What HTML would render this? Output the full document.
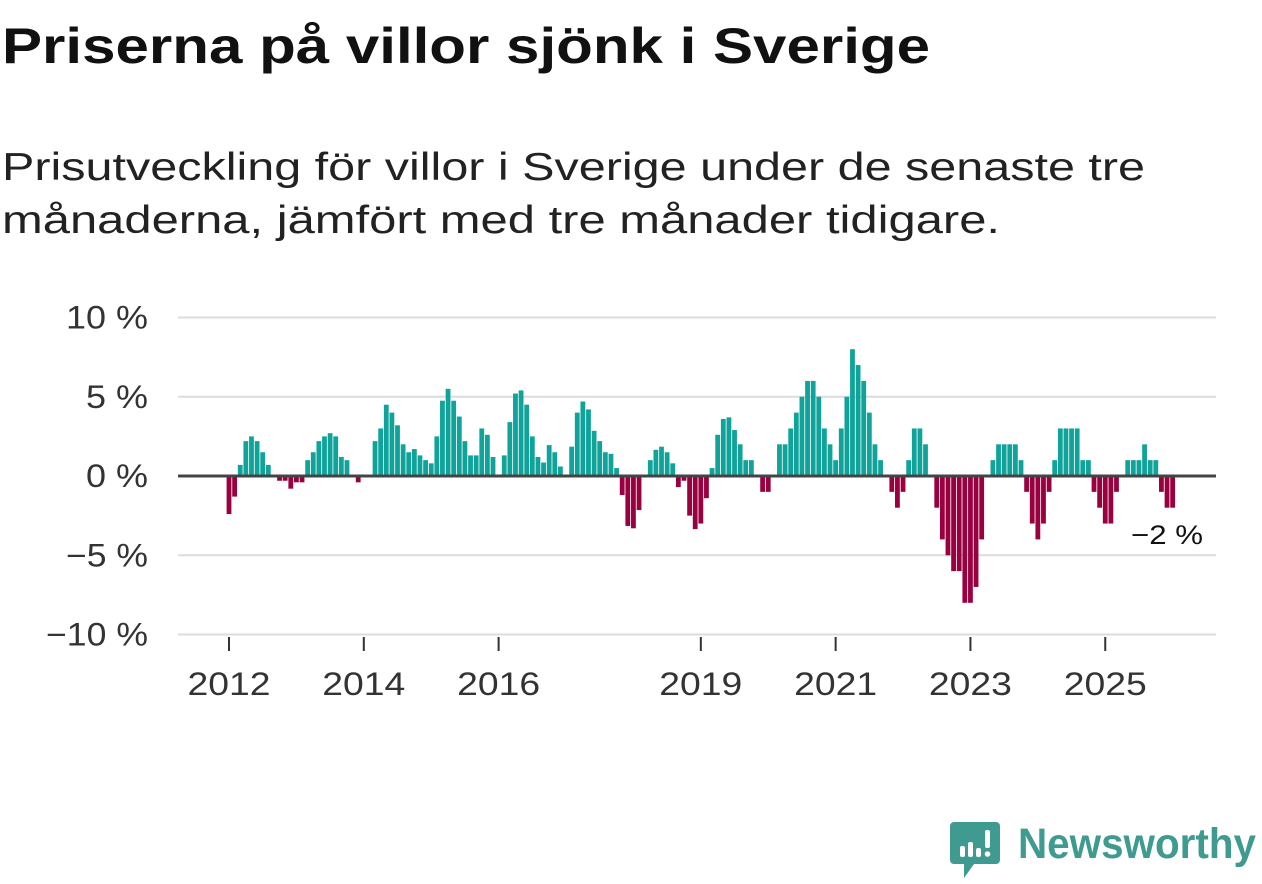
<!DOCTYPE html>
<html><head><meta charset="utf-8"><style>
html,body{margin:0;padding:0;background:#fff;}
body{width:1262px;height:879px;overflow:hidden;font-family:"Liberation Sans","DejaVu Sans",sans-serif;}
</style></head><body>
<svg id="chart" width="1262" height="879" xmlns="http://www.w3.org/2000/svg">
<text x="2" y="63" font-size="50" font-weight="bold" fill="#111" textLength="928" lengthAdjust="spacingAndGlyphs">Priserna på villor sjönk i Sverige</text>
<text x="2" y="180" font-size="39" fill="#222" textLength="1143" lengthAdjust="spacingAndGlyphs">Prisutveckling för villor i Sverige under de senaste tre</text>
<text x="2" y="233" font-size="39" fill="#222" textLength="998" lengthAdjust="spacingAndGlyphs">månaderna, jämfört med tre månader tidigare.</text>
<g id="grid"></g>
<g id="bars"></g>
<g id="axes"></g>
<text x="1203" y="544" font-size="27" fill="#111" text-anchor="end" textLength="72" lengthAdjust="spacingAndGlyphs">−2 %</text>
<g>
<path d="M954 822 h42 a4 4 0 0 1 4 4 v34 a4 4 0 0 1 -4 4 h-22 l-10 14 v-14 h-10 a4 4 0 0 1 -4 -4 v-34 a4 4 0 0 1 4 -4z" fill="#3f9a8f"/>
<rect x="960" y="846" width="5" height="11" rx="2" fill="#fff"/>
<rect x="968" y="842" width="5" height="15" rx="2" fill="#fff"/>
<rect x="976" y="848" width="5" height="9" rx="2" fill="#fff"/>
<rect x="985" y="830" width="5" height="18" rx="2" fill="#fff"/>
<circle cx="987.5" cy="854" r="2.8" fill="#fff"/>
<text x="1018" y="858" font-size="43" font-weight="bold" fill="#3f9a8f" textLength="238" lengthAdjust="spacingAndGlyphs">Newsworthy</text>
</g>
</svg>
<script>
const months = 168; // Jan 2012 .. Dec 2025
const values = [
-2.4,-1.3,0.7,2.2,2.5,2.2,1.5,0.7,0,-0.3,-0.3,-0.8,
-0.4,-0.4,1.0,1.5,2.2,2.5,2.7,2.5,1.2,1.0,0,-0.4,
0,0,2.2,3.0,4.5,4.0,3.2,2.0,1.5,1.7,1.3,1.0,
0.8,2.5,4.75,5.5,4.75,3.75,2.2,1.3,1.3,3.0,2.6,1.2,
0,1.3,3.4,5.2,5.4,4.5,2.5,1.2,0.85,1.95,1.5,0.6,
0,1.85,4.0,4.7,4.2,2.85,2.2,1.5,1.4,0.5,-1.2,-3.15,
-3.3,-2.15,0,1.0,1.65,1.85,1.5,0.8,-0.7,-0.3,-2.5,-3.35,
-3.0,-1.4,0.5,2.6,3.6,3.7,2.9,2.0,1.0,1.0,0,-1.0,
-1.0,0,2.0,2.0,3.0,4.0,5.0,6.0,6.0,5.0,3.0,2.0,
1.0,3.0,5.0,8.0,7.0,6.0,4.0,2.0,1.0,0,-1,-2,
-1,1,3,3,2,0,-2,-4,-5,-6,-6,-8,
-8,-7,-4,0,1,2,2,2,2,1,-1,-3,
-4,-3,-1,1,3,3,3,3,1,1,-1,-2,
-3,-3,-1,0,1,1,1,2,1,1,-1,-2,
-2];
const yTicks = [10,5,0,-5,-10];
const yTickLabels = ["10 %","5 %","0 %","−5 %","−10 %"];
const xTickYears = [2012,2014,2016,2019,2021,2023,2025];

const NS="http://www.w3.org/2000/svg";
const y = v => 476 - v*15.85;
const step = 5.617;
const xc = i => 229 + i*step;
const yearX = yr => xc((yr-2012)*12);
function mk(tag, attrs, parent){const e=document.createElementNS(NS,tag);for(const k in attrs)e.setAttribute(k,attrs[k]);parent.appendChild(e);return e;}
const grid=document.getElementById('grid'), bars=document.getElementById('bars'), axes=document.getElementById('axes');
yTicks.forEach((t,k)=>{
  if(t!==0){
    const l=mk('line',{x1:178,x2:1216,y1:y(t),y2:y(t),stroke:'#dcdcdc','stroke-width':2},grid);
    
    
  }
  const lab=yTickLabels[k];
  const w = lab.length===3 ? 62 : (lab.length===4 ? 82 : 102);
  const tx=mk('text',{x:148,y:y(t)+11,'font-size':32,fill:'#333','text-anchor':'end',textLength:w,lengthAdjust:'spacingAndGlyphs'},axes);
  tx.textContent=lab;
  
  
});
values.forEach((v,i)=>{
  if(v===0) return;
  const top=Math.min(y(v),y(0)), h=Math.abs(y(v)-y(0));
  const r=mk('rect',{x:xc(i)-2.4,y:top,width:4.8,height:h,fill:v>0?'#0fa39a':'#990040'},bars);
  
  
});
const zl=mk('line',{x1:178,x2:1216,y1:y(0),y2:y(0),stroke:'#444','stroke-width':3},axes);


xTickYears.forEach(yr=>{
  const x=yearX(yr);
  const tk=mk('line',{x1:x,x2:x,y1:637,y2:651,stroke:'#333','stroke-width':2},axes);
  
  
  const tx=mk('text',{x:x,y:695,'font-size':32,fill:'#333','text-anchor':'middle',textLength:83,lengthAdjust:'spacingAndGlyphs'},axes);
  tx.textContent=yr;
  
  
});
</script>
</body></html>
